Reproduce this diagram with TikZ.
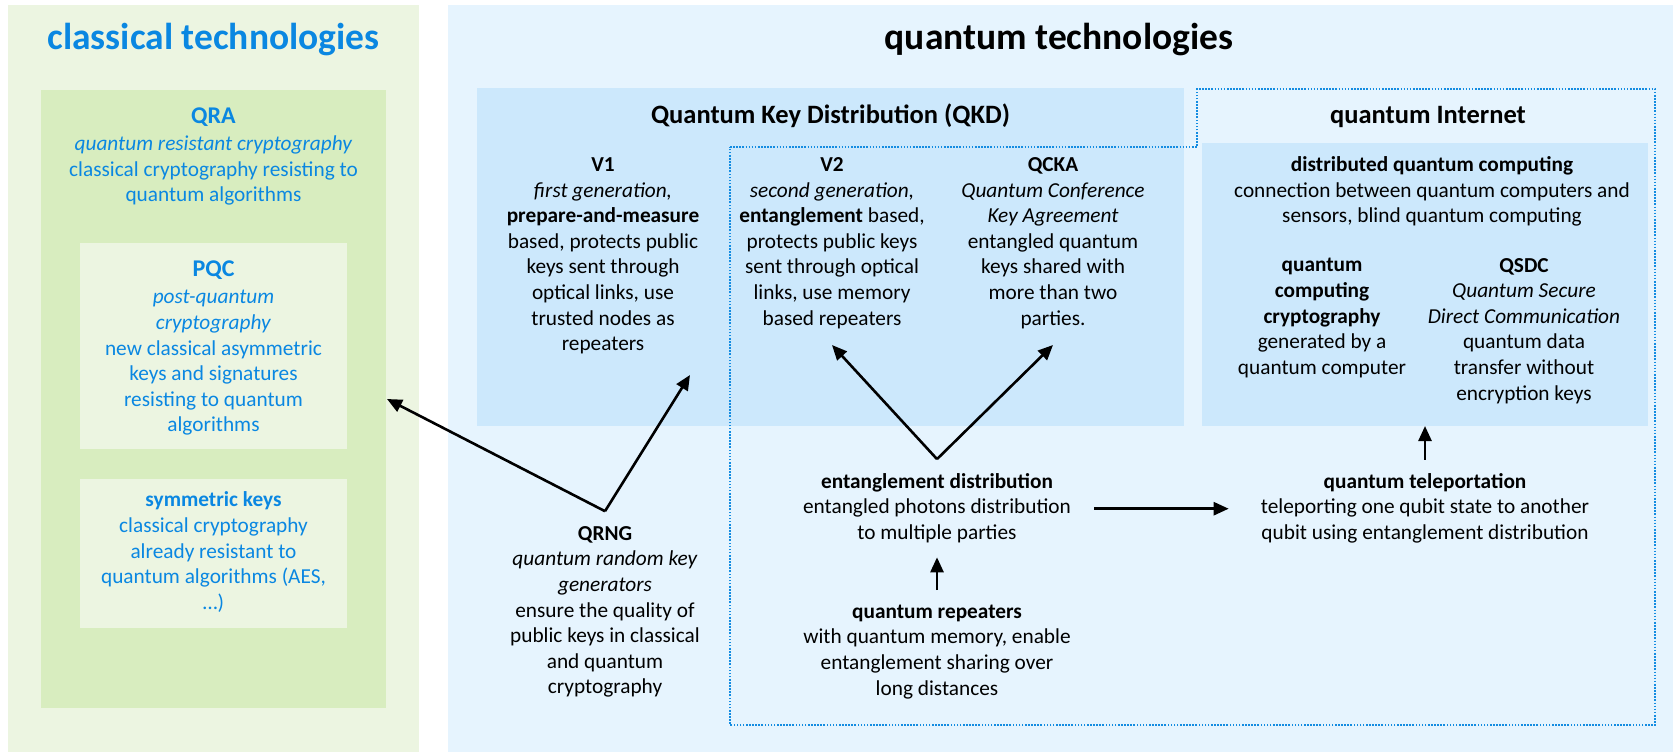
\documentclass[tikz,border=0pt]{standalone}
\usepackage{fontspec}
\setmainfont{Carlito}
\usetikzlibrary{arrows.meta}

\definecolor{clouter}{RGB}{236,245,225}
\definecolor{clinner}{RGB}{216,237,191}
\definecolor{qouter}{RGB}{230,244,254}
\definecolor{qinner}{RGB}{204,232,252}
\definecolor{tblue}{RGB}{10,135,225}
\definecolor{dotblue}{RGB}{20,140,225}

% line break that keeps every line at the same strut height
\newcommand{\nlx}{\\\strut}
\newcommand{\bodysize}{\fontsize{21.3pt}{25.6pt}\selectfont}
\newcommand{\hdrsize}{\fontsize{24pt}{27pt}\selectfont\bfseries}

\tikzset{
  panel/.style={anchor=north west, inner sep=0pt, outer sep=0pt, draw=none},
  txt/.style={align=center, inner sep=0pt, font=\bodysize},
  bigtitle/.style={inner sep=0pt, anchor=base, font=\fontsize{37.5pt}{45pt}\selectfont\bfseries},
  subtitle/.style={inner sep=0pt, anchor=base, font=\fontsize{26.5pt}{32pt}\selectfont\bfseries},
  arr/.style={-{Triangle[length=15pt,width=13pt]}, line width=2.6pt, black},
  dotline/.style={draw=dotblue, line width=1.8pt, dash pattern=on 1.6pt off 1.5pt},
}

\begin{document}
\begin{tikzpicture}[x=1pt,y=-1pt]
\useasboundingbox (0,0) rectangle (1673,752);
\fill[white] (0,0) rectangle (1673,752);

% classical side panels
\node[panel, fill=clouter, minimum width=411pt, minimum height=747pt] (clbox) at (8,5) {};
\node[panel, fill=clinner, minimum width=345pt, minimum height=618pt] (qrabox) at (41,90) {};
\node[panel, fill=clouter, minimum width=267pt, minimum height=206pt] (pqcbox) at (80,243) {};
\node[panel, fill=clouter, minimum width=267pt, minimum height=149pt] (symbox) at (80,479) {};

% quantum side panels
\node[panel, fill=qouter, minimum width=1225pt, minimum height=747pt] (qbox) at (448,5) {};
\node[panel, fill=qinner, minimum width=707pt, minimum height=338pt] (qkdbox) at (477,88) {};
\node[panel, fill=qinner, minimum width=446pt, minimum height=283pt] (qibox) at (1202,143) {};

% dotted outline of the entanglement-based part
\draw[dotline] (730,147) -- (1197,147) -- (1197,89) -- (1655,89) -- (1655,725) -- (730,725) -- cycle;

% titles
\node[bigtitle, text=tblue] (cltitle) at (213.5,50) {classical technologies};
\node[bigtitle] (qtitle) at (1059,50) {quantum technologies};
\node[subtitle] (qkdtitle) at (830.5,123) {Quantum Key Distribution (QKD)};
\node[subtitle] (qititle) at (1428,123) {quantum Internet};

% classical contents
\node[txt, text=tblue] (qra) at (213.5,157.2) {{\hdrsize\strut QRA}\nlx\textit{quantum resistant cryptography}\nlx classical cryptography resisting to\nlx quantum algorithms};
\node[txt, text=tblue] (pqc) at (213.5,348.7) {{\hdrsize\strut PQC}\nlx\textit{post-quantum}\nlx\textit{cryptography}\nlx new classical asymmetric\nlx keys and signatures\nlx resisting to quantum\nlx algorithms};
\node[txt, text=tblue] (sym) at (213.5,553) {\strut\textbf{symmetric keys}\nlx classical cryptography\nlx already resistant to\nlx quantum algorithms (AES,\nlx …)};

% QKD contents
\node[txt] (v1) at (603,256) {\strut\textbf{V1}\nlx\textit{first generation,}\nlx\textbf{prepare-and-measure}\nlx based, protects public\nlx keys sent through\nlx optical links, use\nlx trusted nodes as\nlx repeaters};
\node[txt] (v2) at (832,243.2) {\strut\textbf{V2}\nlx\textit{second generation,}\nlx\textbf{entanglement} based,\nlx protects public keys\nlx sent through optical\nlx links, use memory\nlx based repeaters};
\node[txt] (qcka) at (1053,243.2) {\strut\textbf{QCKA}\nlx\textit{Quantum Conference}\nlx\textit{Key Agreement}\nlx entangled quantum\nlx keys shared with\nlx more than two\nlx parties.};

% quantum Internet contents
\node[txt] (dqc) at (1432,192) {\strut\textbf{distributed quantum computing}\nlx connection between quantum computers and\nlx sensors, blind quantum computing};
\node[txt] (qcc) at (1322,318) {\strut\textbf{quantum}\nlx\textbf{computing}\nlx\textbf{cryptography}\nlx generated by a\nlx quantum computer};
\node[txt] (qsdc) at (1524,331) {\strut\textbf{QSDC}\nlx\textit{Quantum Secure}\nlx\textit{Direct Communication}\nlx quantum data\nlx transfer without\nlx encryption keys};

% lower row
\node[txt] (qrng) at (605,612) {\strut\textbf{QRNG}\nlx\textit{quantum random key}\nlx\textit{generators}\nlx ensure the quality of\nlx public keys in classical\nlx and quantum\nlx cryptography};
\node[txt] (ed) at (937,508.7) {\strut\textbf{entanglement distribution}\nlx entangled photons distribution\nlx to multiple parties};
\node[txt] (rep) at (937,651.5) {\strut\textbf{quantum repeaters}\nlx with quantum memory, enable\nlx entanglement sharing over\nlx long distances};
\node[txt] (tele) at (1425,508.5) {\strut\textbf{quantum teleportation}\nlx teleporting one qubit state to another\nlx qubit using entanglement distribution};

% connectors
\coordinate (qv) at ([yshift=11pt]qrng.north);
\coordinate (v1tip) at (690,375);
\coordinate (qratip) at (387,399);
\draw[arr] (qv) -- (v1tip);
\draw[arr] (qv) -- (qratip);

\coordinate (ev) at ([yshift=11pt]ed.north);
\draw[arr] (ev) -- ([yshift=-12pt]v2.south);
\draw[arr] (ev) -- ([yshift=-12pt]qcka.south);

\draw[arr, shorten <=10pt, shorten >=10pt] (rep.north) -- (ed.south);
\draw[arr, shorten <=23pt, shorten >=32pt] (ed.east) -- (ed.east -| tele.west);
\draw[arr, shorten <=10pt] (tele.north) -- (tele.north |- qibox.south);
\end{tikzpicture}
\end{document}
